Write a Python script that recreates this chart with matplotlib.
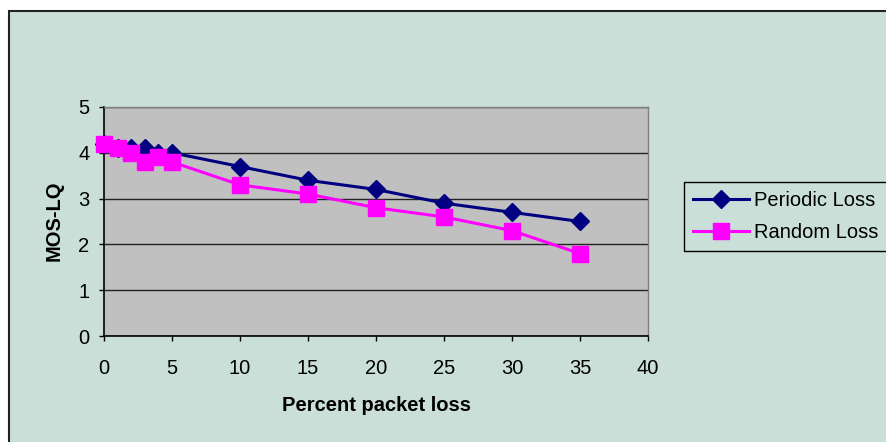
import matplotlib
matplotlib.use("Agg")
import matplotlib.pyplot as plt
from matplotlib.patches import Rectangle

x_loss = [0, 1, 2, 3, 4, 5, 10, 15, 20, 25, 30, 35]
periodic = [4.2, 4.1, 4.1, 4.1, 4.0, 4.0, 3.7, 3.4, 3.2, 2.9, 2.7, 2.5]
random_loss = [4.2, 4.1, 4.0, 3.8, 3.9, 3.8, 3.3, 3.1, 2.8, 2.6, 2.3, 1.8]
xticks = [0, 5, 10, 15, 20, 25, 30, 35, 40]
yticks = [0, 1, 2, 3, 4, 5]

plt.rcParams['font.family'] = ['Liberation Sans', 'DejaVu Sans']
FS = 14.5
W, H = 886, 442
fig = plt.figure(figsize=(W / 100, H / 100), dpi=100)
fig.patch.set_facecolor('white')
bg = '#C9DFD8'
fig.patches.append(Rectangle((9 / W, -0.1), 1.2, 1 - 11 / H + 0.1, transform=fig.transFigure,
                             facecolor=bg, edgecolor='#222222', linewidth=1.5, zorder=-10))

ax = fig.add_axes([104 / W, 1 - 336 / H, (648 - 104) / W, (336 - 107) / H])
ax.set_zorder(5)
ax.set_facecolor('#C0C0C0')
ax.plot(x_loss, periodic, color='#000080', marker='D', markersize=9, linewidth=2.2,
        label='Periodic Loss', zorder=3, clip_on=False)
ax.plot(x_loss, random_loss, color='#FF00FF', marker='s', markersize=11, linewidth=2.2,
        label='Random Loss', zorder=4, clip_on=False)
ax.set_xlim(0, 40)
ax.set_ylim(0, 5)
ax.set_xticks(xticks)
ax.set_yticks(yticks)
ax.tick_params(labelsize=FS, direction='out', length=3.5, width=1, colors='black')
ax.tick_params(axis='x', pad=13)
ax.tick_params(axis='y', pad=7)
ax.yaxis.grid(True, color='#222222', linewidth=1)
ax.set_axisbelow(True)
for s in ['top', 'right']:
    ax.spines[s].set_color('#808080')
    ax.spines[s].set_linewidth(1)
for s in ['left', 'bottom']:
    ax.spines[s].set_color('black')
    ax.spines[s].set_linewidth(1.2)
ax.set_xlabel('Percent packet loss', fontsize=FS, fontweight='bold')
ax.set_ylabel('MOS-LQ', fontsize=FS, fontweight='bold')
ax.xaxis.set_label_coords((376 - 104) / 544, (336 - 396) / 229)
ax.xaxis.label.set_va('top')
ax.yaxis.set_label_coords((54 - 104) / 544, (336 - 221) / 229)
ax.yaxis.label.set_va('center')

leg = ax.legend(loc='upper left', bbox_to_anchor=(684 / W, 1 - 182 / H), bbox_transform=fig.transFigure,
                fontsize=FS, frameon=True, fancybox=False, handlelength=2.8, borderpad=0.45,
                labelspacing=0.65, handletextpad=0.25, borderaxespad=0)
leg.get_frame().set_edgecolor('black')
leg.get_frame().set_facecolor(bg)
leg.get_frame().set_linewidth(1)
leg.get_frame().set_alpha(1)

fig.savefig('out.png', dpi=100, facecolor=fig.get_facecolor())
